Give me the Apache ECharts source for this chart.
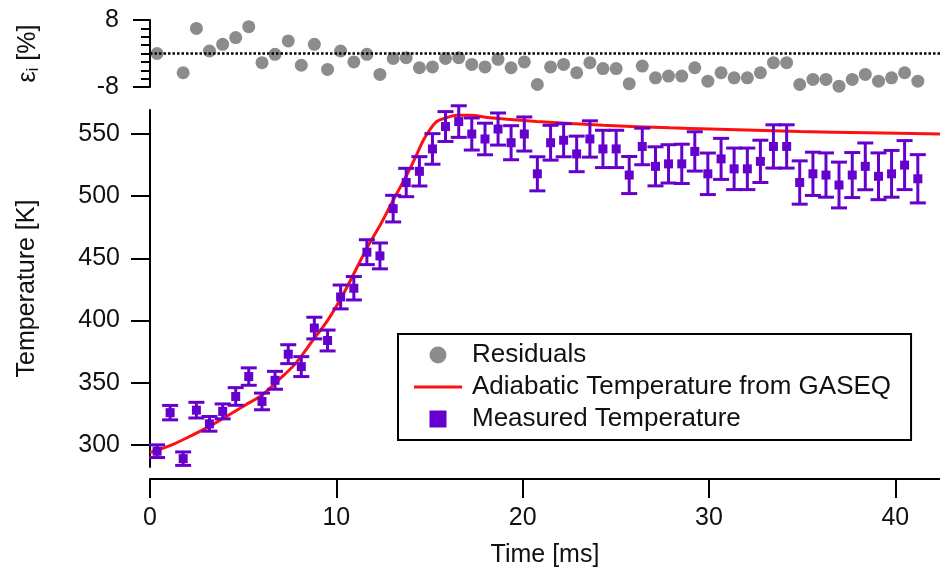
<!DOCTYPE html>
<html>
<head>
<meta charset="utf-8">
<script src="https://cdn.jsdelivr.net/npm/echarts@6/dist/echarts.min.js"></script>
<style>html,body{margin:0;padding:0;background:#fff;}#c{width:940px;height:576px;}</style>
</head>
<body>
<div id="c"></div>
<script>
// ---- data ----
const measTime = [0.38,1.08,1.78,2.49,3.19,3.90,4.60,5.30,6.01,6.71,7.42,8.12,8.82,9.53,10.23,10.94,11.64,12.34,13.05,13.75,14.46,15.16,15.86,16.57,17.27,17.98,18.68,19.38,20.09,20.79,21.50,22.20,22.90,23.61,24.31,25.02,25.72,26.42,27.13,27.83,28.54,29.24,29.94,30.65,31.35,32.06,32.76,33.46,34.17,34.87,35.58,36.28,36.98,37.69,38.39,39.10,39.80,40.50,41.21];
const measTemp = [295,326,289,328,317,327,339,355,335,352,373,363,394,384,419,426,455,452,490,511,520,538,556,560,550,546,554,543,550,518,543,545,534,546,538,538,517,540,524,526,526,536,518,530,522,522,528,540,540,511,518,517,509,517,524,516,518,525,514];
const measErr = [5.1,5.8,5.4,6.3,5.9,6.0,7.1,7.0,6.7,7.2,7.6,8.0,8.7,8.4,9.6,9.4,10.0,10.4,10.7,11.4,11.8,12.3,12.0,12.7,12.9,12.7,12.9,13.7,13.7,13.7,14.0,13.3,14.3,14.6,15.0,15.0,14.9,14.7,15.7,15.4,15.8,15.8,16.7,16.5,16.7,16.7,17.0,17.4,17.4,17.4,17.4,17.8,18.4,18.1,18.8,18.8,18.8,19.7,19.4];
const residuals = [0,null,-4.6,6.0,0.6,2.2,3.8,6.4,-2.2,-0.2,3.0,-2.8,2.2,-3.8,0.6,-2.0,-0.2,-5.0,-1.2,-1.0,-3.4,-3.2,-1.2,-1.0,-2.6,-3.2,-1.4,-3.4,-2.0,-7.4,-3.2,-2.6,-4.6,-2.2,-3.6,-3.6,-7.2,-3.0,-5.8,-5.4,-5.4,-3.4,-6.6,-4.6,-5.8,-5.8,-4.6,-2.2,-2.2,-7.4,-6.2,-6.2,-7.8,-6.2,-5.0,-6.6,-5.8,-4.6,-6.6];
const adiaTime = [0,1.0,1.88,3.31,5.1,6.0,6.89,7.78,8.68,9.57,10.47,11.63,12.4,13.06,13.78,14.3,14.67,15.0,15.39,15.9,16.46,17.18,18.25,20.76,24.32,27.91,30.06,34.89,38.47,42.4];
const adiaTemp = [294,299,305,316,332,340,352,365,383,401,424,458,478,497,517,533,545,553,560,563,565,565,563,560,557,555,554,552,551,550];
const tempTicks = [300,350,400,450,500,550];
const timeTicks = [0,10,20,30,40];

const PURPLE = '#6600cc';
const RED = '#ff1010';
const GRAY = '#8c8c8c';
const measPts = measTime.map((t,i)=>[t, measTemp[i], measErr[i]]);
const resPts = measTime.map((t,i)=>[t, residuals[i]]);
const adiaPts = adiaTime.map((t,i)=>[t, adiaTemp[i]]);

const FONT = 'Liberation Sans, Arial, sans-serif';
const chart = echarts.init(document.getElementById('c'), null, {renderer:'canvas'});
chart.setOption({
  animation: false,
  backgroundColor: '#fff',
  textStyle: {fontFamily: FONT},
  grid: [
    {left:150, right:0, top:20, height:67, outerBoundsMode:'none', containLabel:false},
    {left:150, right:0, top:110, height:357, outerBoundsMode:'none', containLabel:false}
  ],
  xAxis: [
    {gridIndex:0, type:'value', min:0, max:42.4, show:false},
    {gridIndex:1, type:'value', min:0, max:42.4, offset:12,
     axisLine:{show:true, onZero:false, lineStyle:{color:'#000', width:2}},
     axisTick:{show:true, inside:false, length:19, customValues:timeTicks, lineStyle:{color:'#000', width:2}},
     axisLabel:{show:true, margin:27, fontSize:25, color:'#111', fontFamily:FONT, customValues:timeTicks},
     splitLine:{show:false},
     name:'Time [ms]', nameLocation:'middle', nameGap:64,
     nameTextStyle:{fontSize:25, color:'#111', fontFamily:FONT}}
  ],
  yAxis: [
    {gridIndex:0, type:'value', min:-8, max:8, interval:16,
     axisLine:{show:true, onZero:false, lineStyle:{color:'#000', width:2}},
     axisTick:{show:true, inside:false, length:17, lineStyle:{color:'#000', width:2}},
     minorTick:{show:true, splitNumber:8, length:9, lineStyle:{color:'#000', width:2}},
     axisLabel:{show:true, margin:31, fontSize:25, color:'#111', fontFamily:FONT},
     splitLine:{show:false},
     name:'{a|ε}{b|i}{a| [%]}', nameLocation:'middle', nameGap:108,
     nameTextStyle:{fontFamily:FONT, rich:{a:{fontSize:25, color:'#111', fontFamily:FONT}, b:{fontSize:16, color:'#111', fontFamily:FONT, padding:[12,0,0,0]}}}},
    {gridIndex:1, type:'value', min:282.3, max:569.3,
     axisLine:{show:true, onZero:false, lineStyle:{color:'#000', width:2}},
     axisTick:{show:true, inside:false, length:19, customValues:tempTicks, lineStyle:{color:'#000', width:2}},
     axisLabel:{show:true, margin:30, fontSize:25, color:'#111', fontFamily:FONT, customValues:tempTicks},
     splitLine:{show:false},
     name:'Temperature [K]', nameLocation:'middle', nameGap:110,
     nameTextStyle:{fontSize:25, color:'#111', fontFamily:FONT}}
  ],
  legend: {
    orient:'vertical', left:398, top:334,
    padding:[8,20,8,16],
    itemWidth:48, itemHeight:17, itemGap:6,
    symbolKeepAspect:true,
    borderColor:'#000', borderWidth:2, backgroundColor:'#fff',
    textStyle:{fontSize:26, color:'#111', fontFamily:FONT, padding:[0,0,0,5]},
    data:[
      {name:'Residuals', icon:'circle', itemStyle:{color:GRAY, opacity:1}},
      {name:'Adiabatic Temperature from GASEQ', icon:'path://M0,0H48V3H0Z', itemStyle:{color:RED, opacity:1}},
      {name:'Measured Temperature', icon:'path://M0,0H10V10H0Z', itemStyle:{color:PURPLE, opacity:1}}
    ]
  },
  series: [
    {name:'Residuals', type:'scatter', xAxisIndex:0, yAxisIndex:0, data:resPts,
     symbol:'circle', symbolSize:13, itemStyle:{color:GRAY, opacity:1},
     markLine:{silent:true, symbol:'none', label:{show:false},
       lineStyle:{color:'#000', type:[2.5,2], width:2.5}, data:[{yAxis:0}]}, z:3},
    {name:'Adiabatic Temperature from GASEQ', type:'line', xAxisIndex:1, yAxisIndex:1, data:adiaPts,
     symbol:'none', smooth:0.3, lineStyle:{color:RED, width:3}, itemStyle:{color:RED}, z:2},
    {name:'errbars', type:'custom', xAxisIndex:1, yAxisIndex:1, data:measPts, clip:false, z:4,
     renderItem:function(params, api){
       const t = api.value(0), v = api.value(1), e = api.value(2);
       const top = api.coord([t, v+e]), bot = api.coord([t, v-e]);
       const hw = 8;
       const st = {stroke:PURPLE, lineWidth:3, fill:null};
       return {type:'group', children:[
         {type:'line', shape:{x1:top[0], y1:top[1], x2:bot[0], y2:bot[1]}, style:st},
         {type:'line', shape:{x1:top[0]-hw, y1:top[1], x2:top[0]+hw, y2:top[1]}, style:st},
         {type:'line', shape:{x1:bot[0]-hw, y1:bot[1], x2:bot[0]+hw, y2:bot[1]}, style:st}
       ]};
     }},
    {name:'Measured Temperature', type:'scatter', xAxisIndex:1, yAxisIndex:1,
     data:measPts.map(p=>[p[0],p[1]]), symbol:'rect', symbolSize:9, itemStyle:{color:PURPLE, opacity:1}, z:5}
  ]
});
</script>
</body>
</html>
